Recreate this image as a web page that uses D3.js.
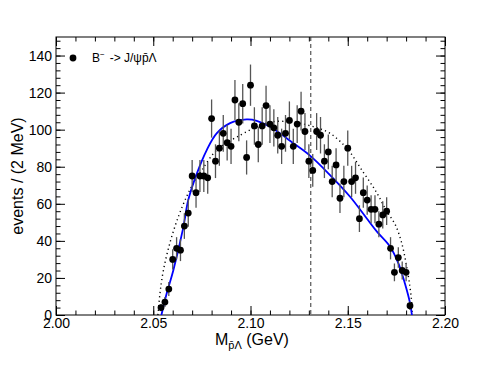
<!DOCTYPE html>
<html>
<head>
<meta charset="utf-8">
<script src="https://cdn.jsdelivr.net/npm/d3@7"></script>
<style>
  body { margin: 0; background: #fff; }
  text { font-family: "Liberation Sans", Arial, sans-serif; }
</style>
</head>
<body>
<div id="chart"></div>
<script>
// bin centres (GeV), 2 MeV bins
var binCenters = [2.054, 2.056, 2.058, 2.060, 2.062, 2.064, 2.066, 2.068, 2.070, 2.072,
                  2.074, 2.076, 2.078, 2.080, 2.082, 2.084, 2.086, 2.088, 2.090, 2.092,
                  2.094, 2.096, 2.098, 2.100, 2.102, 2.104, 2.106, 2.108, 2.110, 2.112,
                  2.114, 2.116, 2.118, 2.120, 2.122, 2.124, 2.126, 2.128, 2.130, 2.132,
                  2.134, 2.136, 2.138, 2.140, 2.142, 2.144, 2.146, 2.148, 2.150, 2.152,
                  2.154, 2.156, 2.158, 2.160, 2.162, 2.164, 2.166, 2.168, 2.170, 2.172,
                  2.174, 2.176, 2.178, 2.180, 2.182];
// events per bin
var counts = [4, 7, 14, 30, 36, 35, 48, 55, 75, 66,
              75, 75, 74, 106, 83, 90, 98, 93, 91, 116,
              104, 114, 85, 124, 102, 92, 102, 113, 103, 101,
              97, 91, 98, 105, 91, 103, 110, 99, 83, 78,
              99, 97, 83, 88, 72, 81, 63, 72, 90, 72,
              74, 52, 66, 62, 57, 57, 49, 54, 56, 36,
              23, 31, 24, 23, 5];

// fit curve (blue)
var fitMass = [2.0542, 2.0570, 2.0603, 2.0654, 2.0680, 2.0723, 2.0775, 2.0826, 2.0895, 2.0980,
               2.1032, 2.1100, 2.1152, 2.1203, 2.1306, 2.1409, 2.1512, 2.1597, 2.1650, 2.1717,
               2.1760, 2.1794, 2.1820, 2.1830];
var fitVals = [0, 12, 24, 47, 62, 76, 89, 98, 103.5, 105.5,
               104.8, 101.6, 98, 94, 86, 75.5, 63.8, 52.2, 45, 37,
               28, 17, 6.5, 0];

// phase space curve (dotted)
var psMass = [2.0524, 2.0535, 2.0552, 2.0586, 2.0629, 2.0672, 2.0706, 2.0749, 2.0826, 2.0929,
              2.1100, 2.1220, 2.1323, 2.1409, 2.1495, 2.1580, 2.1649, 2.1700, 2.1743, 2.1777,
              2.1803, 2.1820, 2.1829, 2.1831];
var psVals = [0, 12, 24, 39, 53, 64, 71, 78, 89, 96,
              104, 104, 101.6, 98, 90, 77, 66, 56, 49, 39,
              26, 15, 6.5, 0];

var cutMass = 2.131;

var xTicks = [2.00, 2.05, 2.10, 2.15, 2.20];
var yTicks = [0, 20, 40, 60, 80, 100, 120, 140];

var W = 480, H = 371;
var frame = {left: 56, right: 445, top: 37, bottom: 315};

var x = d3.scaleLinear().domain([2.0, 2.2]).range([frame.left, frame.right]);
var y = d3.scaleLinear().domain([0, 150]).range([frame.bottom, frame.top]);

var svg = d3.select("#chart").append("svg")
    .attr("width", W).attr("height", H);

svg.append("defs").append("clipPath").attr("id", "clip")
  .append("rect")
    .attr("x", frame.left).attr("y", frame.top)
    .attr("width", frame.right - frame.left)
    .attr("height", frame.bottom - frame.top);

// minor ticks
var xMinor = d3.range(2.0, 2.2001, 0.01);
var yMinor = d3.range(0, 150.01, 4);

function tickAxis(axis, transform, size, values, labels) {
    var g = svg.append("g")
        .attr("transform", transform)
        .call(axis.tickValues(values).tickSize(size).tickPadding(labels ? 4 : 0)
              .tickFormat(labels ? labels : ""));
    g.select(".domain").remove();
    g.selectAll("line").attr("stroke", "#000");
    return g;
}

tickAxis(d3.axisBottom(x), "translate(0," + frame.bottom + ")", -4.5, xMinor, null);
tickAxis(d3.axisTop(x), "translate(0," + frame.top + ")", -4.5, xMinor, null);
tickAxis(d3.axisLeft(y), "translate(" + frame.left + ",0)", -4.5, yMinor, null);
tickAxis(d3.axisRight(y), "translate(" + frame.right + ",0)", -4.5, yMinor, null);

var xb = tickAxis(d3.axisBottom(x), "translate(0," + frame.bottom + ")", -9, xTicks, d3.format(".2f"));
xb.selectAll("text").attr("font-size", 14).attr("fill", "#000")
  .attr("font-family", "Liberation Sans, Arial, sans-serif").attr("y", 3);
tickAxis(d3.axisTop(x), "translate(0," + frame.top + ")", -9, xTicks, null);
var yl = tickAxis(d3.axisLeft(y), "translate(" + frame.left + ",0)", -9, yTicks, d3.format("d"));
yl.selectAll("text").attr("font-size", 14).attr("fill", "#000")
  .attr("font-family", "Liberation Sans, Arial, sans-serif").attr("x", -4);
tickAxis(d3.axisRight(y), "translate(" + frame.right + ",0)", -9, yTicks, null);

// frame
svg.append("rect")
    .attr("x", frame.left).attr("y", frame.top)
    .attr("width", frame.right - frame.left)
    .attr("height", frame.bottom - frame.top)
    .attr("fill", "none").attr("stroke", "#000").attr("stroke-width", 1);

var plot = svg.append("g").attr("clip-path", "url(#clip)");

// dashed cut line
plot.append("line")
    .attr("x1", x(cutMass)).attr("x2", x(cutMass))
    .attr("y1", frame.top).attr("y2", frame.bottom)
    .attr("stroke", "#333").attr("stroke-width", 1)
    .attr("stroke-dasharray", "4,3");

var line = d3.line()
    .x(d => x(d[0])).y(d => y(d[1]))
    .curve(d3.curveCatmullRom);

// phase space (dotted)
plot.append("path")
    .datum(d3.zip(psMass, psVals))
    .attr("d", line)
    .attr("fill", "none").attr("stroke", "#000")
    .attr("stroke-width", 1.4).attr("stroke-dasharray", "1.2,3.2");

// fit (blue)
plot.append("path")
    .datum(d3.zip(fitMass, fitVals))
    .attr("d", line)
    .attr("fill", "none").attr("stroke", "#0000ff")
    .attr("stroke-width", 1.8);

// data points with poisson errors
var pts = d3.zip(binCenters, counts);
plot.selectAll(".err").data(pts).enter().append("line")
    .attr("class", "err")
    .attr("x1", d => x(d[0])).attr("x2", d => x(d[0]))
    .attr("y1", d => y(d[1] + Math.sqrt(d[1])))
    .attr("y2", d => y(d[1] - Math.sqrt(d[1])))
    .attr("stroke", "#555").attr("stroke-width", 1.3);

plot.selectAll(".pt").data(pts).enter().append("circle")
    .attr("class", "pt")
    .attr("cx", d => x(d[0])).attr("cy", d => y(d[1]))
    .attr("r", 3.4).attr("fill", "#000");

// legend
svg.append("circle").attr("cx", 73).attr("cy", 58).attr("r", 3.4).attr("fill", "#000");
var leg = svg.append("text").attr("x", 92).attr("y", 62).attr("font-size", 12).attr("fill", "#000");
leg.append("tspan").text("B");
leg.append("tspan").attr("font-size", 8).attr("dy", -5).text("\u2212");
leg.append("tspan").attr("dy", 5).attr("dx", 5).text("-> J/\u03C8p\u0304\u039B");

// axis titles
var xt = svg.append("text").attr("x", 215).attr("y", 345).attr("font-size", 16).attr("fill", "#000");
xt.append("tspan").text("M");
xt.append("tspan").attr("font-size", 11).attr("dy", 4).text("p\u0304\u039B");
xt.append("tspan").attr("dy", -4).text(" (GeV)");

svg.append("text")
    .attr("transform", "translate(23,176) rotate(-90)")
    .attr("text-anchor", "middle")
    .attr("font-size", 16).attr("fill", "#000")
    .text("events / (2 MeV)");
</script>
</body>
</html>
